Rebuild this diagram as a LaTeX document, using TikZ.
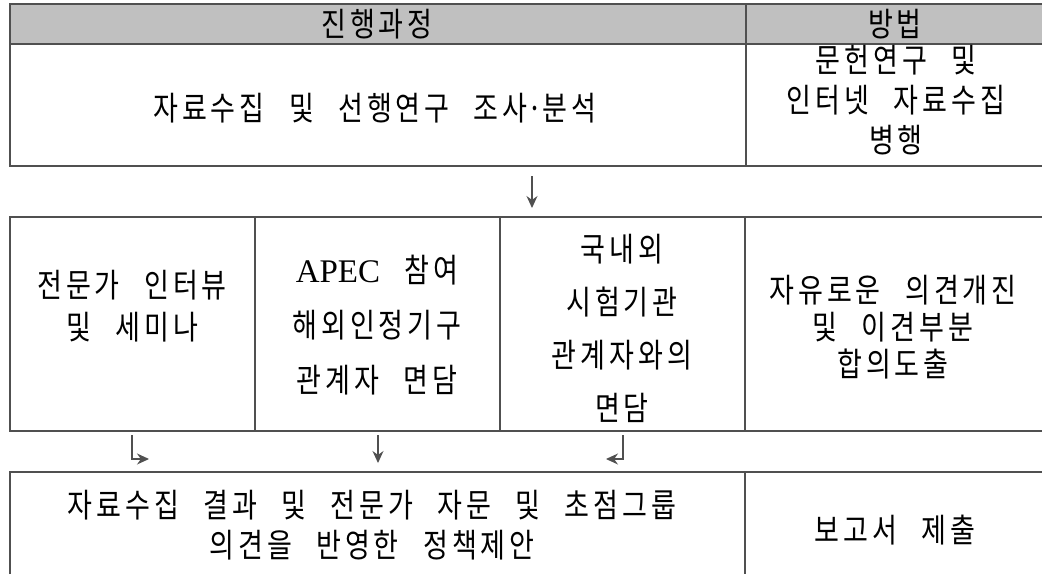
\documentclass[tikz,border=0pt]{standalone}
\usepackage{fontspec}
\usetikzlibrary{arrows.meta}
\newfontfamily\kr{Noto Sans CJK KR}[WordSpace=4.0, FakeStretch=0.82]
\newfontfamily\lat{Liberation Serif}
\XeTeXinterchartokenstate=1
\newXeTeXintercharclass\hgcls
\count255="AC00
\loop
  \XeTeXcharclass\count255=\hgcls
  \ifnum\count255<"D7A3 \advance\count255 by 1
\repeat
\XeTeXinterchartoks\hgcls\hgcls={\hskip 4pt\relax}
\definecolor{hdrgray}{RGB}{192,192,192}
\definecolor{rule}{RGB}{80,80,80}
\tikzset{
  grid/.style={draw=rule, line width=1.3pt},
  txt/.style={align=center, inner sep=0pt, text=black},
  arr/.style={draw=rule, line width=1.2pt, -{Stealth[length=12pt,width=11pt]}},
}
\newcommand{\ks}[1]{\kr\fontsize{33}{#1}\selectfont}
\begin{document}
\begin{tikzpicture}[x=1pt,y=-1pt]
\useasboundingbox (0,0) rectangle (1042,574);
% header fill
\fill[hdrgray] (10,4) rectangle (1042,44);
% top table
\draw[grid] (1042,4) -- (10,4) -- (10,166) -- (1042,166);
\draw[grid] (10,44) -- (1042,44);
\draw[grid] (746,4) -- (746,166);
% second table
\draw[grid] (1042,217) -- (10,217) -- (10,431) -- (1042,431);
\draw[grid] (255,217) -- (255,431);
\draw[grid] (500,217) -- (500,431);
\draw[grid] (745,217) -- (745,431);
% bottom row
\draw[grid] (10,574) -- (10,472) -- (1042,472);
\draw[grid] (745,472) -- (745,574);

% texts
\node[txt, font=\ks{40}] (hdrA) at (377,24) {진행과정};
\node[txt, font=\ks{40}] (hdrB) at (895,24) {방법};
\node[txt, font=\ks{40}] (collect) at (375,108) {자료수집 및 선행연구 조사·분석};
\node[txt, font=\ks{40}] (method1) at (896,100) {문헌연구 및\\인터넷 자료수집\\병행};
\node[txt, font=\ks{42}] (expert) at (132,306) {전문가 인터뷰\\및 세미나};
\node[txt, font=\ks{55}] (apec) at (377,325) {{\lat\fontsize{33}{55}\selectfont APEC} 참여\\해외인정기구\\관계자 면담};
\node[txt, font=\ks{53}] (domestic) at (622,328) {국내외\\시험기관\\관계자와의\\면담};
\node[txt, font=\ks{37}] (free) at (893,327) {자유로운 의견개진\\및 이견부분\\합의도출};
\node[txt, font=\ks{40}] (policy) at (372,525) {자료수집 결과 및 전문가 자문 및 초점그룹\\의견을 반영한 정책제안};
\node[txt, font=\ks{40}] (report) at (895,530) {보고서 제출};

% arrows
\coordinate (d1s) at (532,176);
\coordinate (d1e) at (532,208);
\draw[arr] (d1s) -- (d1e);
\coordinate (l1s) at (132,435);
\coordinate (l1c) at (132,459);
\coordinate (l1e) at (149,459);
\draw[arr] (l1s) -- (l1c) -- (l1e);
\coordinate (m1s) at (378,435);
\coordinate (m1e) at (378,463);
\draw[arr] (m1s) -- (m1e);
\coordinate (r1s) at (623,435);
\coordinate (r1c) at (623,459);
\coordinate (r1e) at (606,459);
\draw[arr] (r1s) -- (r1c) -- (r1e);
\end{tikzpicture}
\end{document}
